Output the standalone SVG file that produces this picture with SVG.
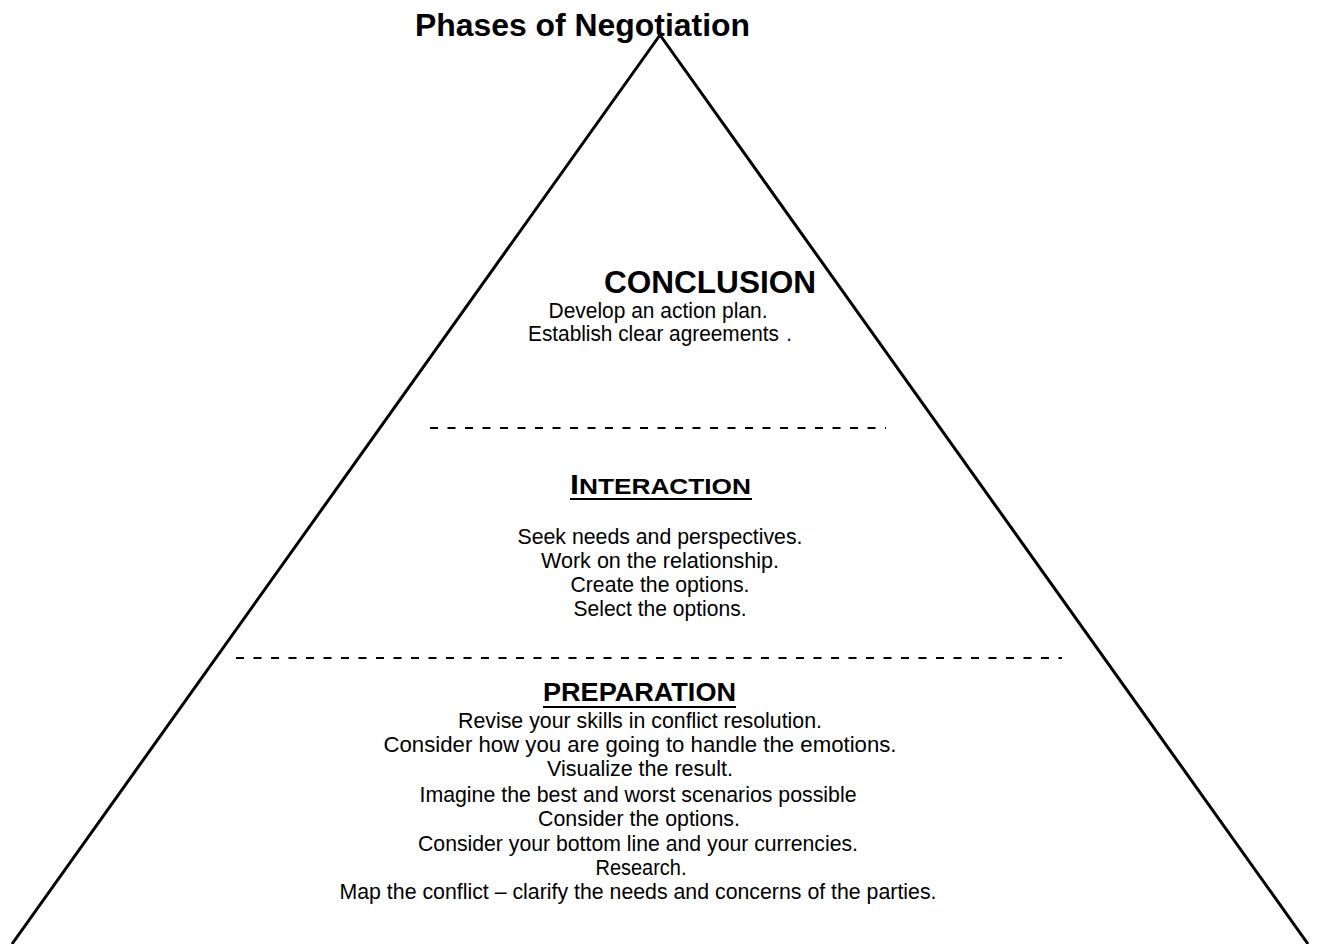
<svg xmlns="http://www.w3.org/2000/svg" width="1321" height="944" viewBox="0 0 1321 944">
<style>
text{font-family:"Liberation Sans",Arial,sans-serif;fill:#000;}
.h{font-weight:bold;}
.b{font-size:21.5px;text-anchor:middle;}
.dash{stroke:#000;stroke-width:2;stroke-dasharray:8 9.5;fill:none;}
.ul{stroke:#000;stroke-width:2;}
</style>
<rect width="1321" height="944" fill="#fff"/>
<g id="pyramid">
<polyline points="12,944 660,35 1308,944" fill="none" stroke="#000" stroke-width="3"/>
</g>
<g id="title">
<text class="h" x="415" y="36" font-size="31" textLength="335" lengthAdjust="spacingAndGlyphs">Phases of Negotiation</text>
</g>
<g id="conclusion">
<text class="h" x="604" y="293" font-size="31" textLength="212" lengthAdjust="spacingAndGlyphs">CONCLUSION</text>
<text class="b" x="658" y="318" textLength="219" lengthAdjust="spacingAndGlyphs">Develop an action plan.</text>
<text x="528" y="341" font-size="21.5" textLength="251" lengthAdjust="spacingAndGlyphs">Establish clear agreements</text>
<text x="786" y="341" font-size="21.5" style="fill:#00f">.</text>
</g>
<g id="connectors">
<line class="dash" x1="430" y1="428" x2="886" y2="428"/>
<line class="dash" x1="236" y1="658" x2="1062" y2="658"/>
</g>
<g id="interaction">
<text class="h" x="570" y="494" font-size="22" textLength="181" lengthAdjust="spacingAndGlyphs"><tspan font-size="27">I</tspan>NTERACTION</text>
<line class="ul" x1="570" y1="499" x2="752" y2="499"/>
<text class="b" x="660" y="544" textLength="285" lengthAdjust="spacingAndGlyphs">Seek needs and perspectives.</text>
<text class="b" x="660" y="568" textLength="238" lengthAdjust="spacingAndGlyphs">Work on the relationship.</text>
<text class="b" x="660" y="592" textLength="179" lengthAdjust="spacingAndGlyphs">Create the options.</text>
<text class="b" x="660" y="616" textLength="173" lengthAdjust="spacingAndGlyphs">Select the options.</text>
</g>
<g id="preparation">
<text class="h" x="543" y="701" font-size="25" textLength="193" lengthAdjust="spacingAndGlyphs">PREPARATION</text>
<line class="ul" x1="543" y1="707" x2="736" y2="707"/>
<text class="b" x="640" y="728" textLength="364" lengthAdjust="spacingAndGlyphs">Revise your skills in conflict resolution.</text>
<text class="b" x="640" y="752" textLength="513" lengthAdjust="spacingAndGlyphs">Consider how you are going to handle the emotions.</text>
<text class="b" x="640" y="776" textLength="186" lengthAdjust="spacingAndGlyphs">Visualize the result.</text>
<text class="b" x="638" y="802" textLength="437" lengthAdjust="spacingAndGlyphs">Imagine the best and worst scenarios possible</text>
<text class="b" x="639" y="826" textLength="202" lengthAdjust="spacingAndGlyphs">Consider the options.</text>
<text class="b" x="638" y="851" textLength="440" lengthAdjust="spacingAndGlyphs">Consider your bottom line and your currencies.</text>
<text class="b" x="641" y="875" textLength="91" lengthAdjust="spacingAndGlyphs">Research.</text>
<text class="b" x="638" y="899" textLength="597" lengthAdjust="spacingAndGlyphs">Map the conflict – clarify the needs and concerns of the parties.</text>
</g>
</svg>
